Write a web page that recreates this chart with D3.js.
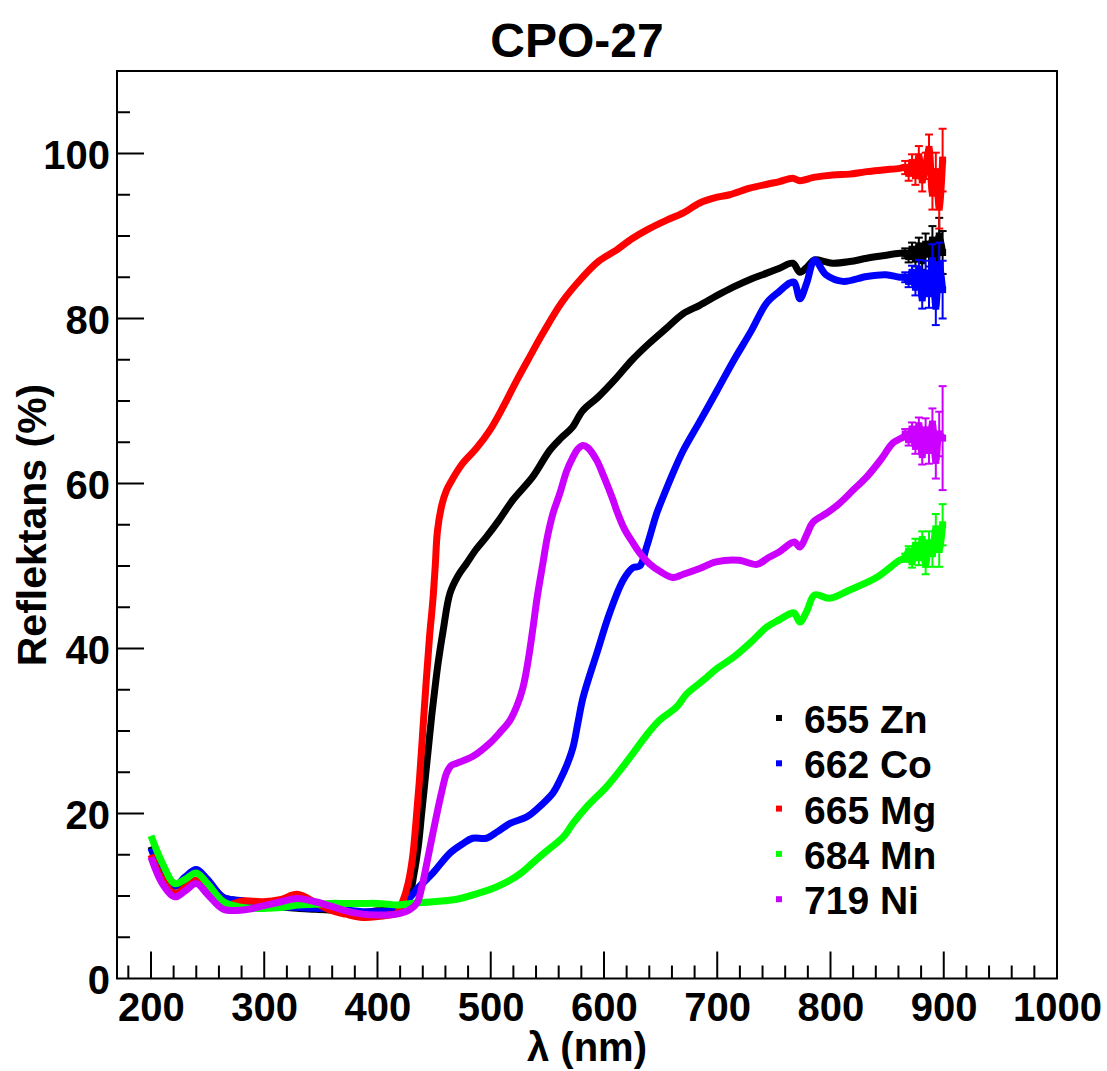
<!DOCTYPE html>
<html><head><meta charset="utf-8">
<script src="https://cdn.jsdelivr.net/npm/d3@7"></script>
<style>body{margin:0;background:#fff}svg{display:block}text{font-family:"Liberation Sans",Arial,sans-serif;font-weight:bold}</style>
</head><body><svg id="c" width="1107" height="1071"></svg>
<script>
// ---- data ----
const seriesNames = ["655 Zn","662 Co","665 Mg","684 Mn","719 Ni"];
const seriesColors = ["#000000","#0000ff","#ff0000","#00ff00","#cc00ff"];

const znNm  = [200,210,221,230,240,250,264,281,299,315,329,345,358,372,387,400,410,417,423,428.6,432,436,439,442,445,448,451,453.5,458,464,471,478.6,487,496,507,519.5,537,552,562,572,581,595,611,625,640,655,670,684.5,700,714,730,743.7,755,766.6,773,779,786,795,802,817,832,846,861];
const znVal = [16.0,13.0,11.2,12.0,13.1,11.8,9.8,9.4,8.9,8.7,8.5,8.4,8.3,8.1,8.0,8.2,8.3,8.6,9.2,10.3,12.5,16,20,24,28,32,35.5,38.2,42.2,46.7,48.8,50.3,52,53.5,55.5,58,60.8,64,65.5,66.8,68.8,70.5,72.8,75,77,78.8,80.6,81.6,82.8,83.8,84.8,85.5,86.1,86.7,85.6,86.2,87.1,86.9,86.7,86.9,87.3,87.6,87.9];

const coNm  = [200,210,221,230,240,250,264,281,299,315,329,345,358,372,387,400,410,417,424,436,449,464,475,484,496,506,517,532,546,555,561,567,572.6,577,581.6,593.6,605,617,625.6,631.6,637.6,646.6,652,660.7,670,684.5,700,714,730,743.7,755,764,768,773,779,786,796,811,832,849,861];
const coVal = [15.8,12.8,11.2,12.3,13.2,12.0,9.8,9.4,8.9,8.7,8.6,8.5,8.5,8.3,8.1,8.1,8.2,8.3,9.1,11,12.8,15.2,16.3,17,17,17.8,18.8,19.6,21.2,22.5,24,25.8,28,31,34.1,39.4,44.3,48.3,49.8,50,52.3,56.4,58.3,61.2,64.0,67.5,71.3,74.8,78.5,81.9,83.3,84.3,84.4,82.4,84.3,87.1,85.3,84.5,85.1,85.3,85.0];

const mgNm  = [200,210,221,230,240,250,264,281,299,315,329,345,358,372,387,400,410,417,422.7,427,431,434,437,440,443,446,449,451,453,457,461,464,475,487,499,511,523,535,546,563,581,595,611,625,640,655,670,684.5,700,711,728.7,745,755,766.6,773,785,802,817,832,846,861];
const mgVal = [15.0,12.0,10.3,11.0,11.9,10.8,8.9,9.4,9.3,9.6,10.2,9.2,8.3,7.8,7.4,7.5,7.7,7.9,9.5,11.5,14.7,19,24,30,36,41.5,46,50,54.3,57.5,59.2,60,62.4,64.2,66.4,69.3,72.5,75.5,78.2,82,85,86.9,88.3,89.7,90.9,91.9,92.8,94,94.7,95,95.8,96.3,96.6,97.0,96.7,97.1,97.4,97.5,97.8,98.0,98.2];

const mnNm  = [200,210,221,230,240,250,264,281,299,315,329,345,358,372,387,400,410,417,430,449,470,493,505,517,527,537,548,558,565,572.6,584.7,602,614,625.6,637,649,664,673,684.5,690.7,700,714,730,743.7,755,764,768,773,779,786,799,817,840.6,861];
const mnVal = [17.3,14,11.5,12.0,12.8,11.5,9.3,8.6,8.5,8.6,8.9,9.0,9.1,9.1,9.1,9.1,9.0,8.9,9.1,9.3,9.6,10.5,11.1,11.9,12.8,14,15.3,16.4,17.3,18.8,20.8,23.2,25.2,27.3,29.4,31.3,32.9,34.5,35.8,36.5,37.6,38.9,40.8,42.6,43.5,44.2,44.3,43.2,44.5,46.5,46.1,47.1,48.6,50.7];

const niNm  = [200,210,221,230,240,250,264,281,299,315,329,345,358,372,387,400,410,420,428,434.7,439,443.6,448,452.5,457,461,465,470,484,499,508,517,523,528.5,533,537,541,546,550,555,561,567,572.6,577,581.6,586,593.6,600,608,611,618,625.6,632,640,650,660.7,670,684.5,699,719,735,745,754.6,768,773,779,784.5,796.6,808,820,832,845,855,866];
const niVal = [14.7,11.5,9.9,10.6,11.5,10.2,8.4,8.3,8.8,9.3,9.7,9.3,8.8,8.2,7.8,7.7,7.7,7.9,8.3,9.1,11,14,17,20,22.8,24.9,25.8,26.1,26.9,28.5,29.8,31.3,33,35.3,38.5,42.2,46.2,50.3,53.5,56.4,58.8,61.5,63.2,64.2,64.6,64.3,62.8,60.8,58,56.8,54.5,52.8,51.5,50.3,49.3,48.6,49.0,49.7,50.5,50.7,50.2,51,51.7,52.9,52.3,53.8,55.3,56.4,57.6,59.2,60.8,63,64.9,65.8];

// noisy tail with error bars
const tailNm  = [866,869,872,875,878,881,884,887,890,893,896,899];
const znTail  = [87.9,87.5,88.4,87.2,88.8,87.0,89.0,87.8,89.5,86.5,90.0,88.0];
const znErr   = [0.6,0.7,0.8,0.9,1.0,1.1,1.3,1.5,1.7,1.9,2.2,2.6];
const coTail  = [85.0,84.5,85.6,83.8,86.0,82.5,85.5,83.0,87.0,81.5,86.5,83.5];
const coErr   = [0.6,0.7,0.8,1.0,1.1,1.3,1.5,1.7,2.0,2.3,2.7,3.5];
const mgTail  = [98.3,97.6,98.9,97.3,99.6,96.8,98.5,100.5,95.2,97.8,93.5,99.2];
const mgErr   = [0.8,0.9,1.0,1.1,1.3,1.4,1.6,1.8,2.0,2.3,2.6,3.8];
const mnTail  = [51.0,51.8,50.5,52.5,51.0,53.2,50.2,52.8,51.5,54.5,52.0,55.0];
const mnErr   = [0.5,0.6,0.7,0.8,0.9,1.0,1.2,1.4,1.6,1.8,2.1,2.5];
const niTail  = [66.0,65.3,66.6,64.5,67.0,63.5,66.5,64.0,67.2,62.8,66.0,65.5];
const niErr   = [0.6,0.7,0.8,0.9,1.0,1.2,1.4,1.6,1.9,2.2,2.7,6.3];

const xTickValues = [200,300,400,500,600,700,800,900,1000];
const yTickValues = [0,20,40,60,80,100];

// ---- drawing ----
const svg = d3.select("#c");
const L=117, R=1057, T=71, B=978.5;
const x = d3.scaleLinear().domain([170,1000]).range([L,R]);
const y = d3.scaleLinear().domain([0,110]).range([B,T]);

const mains = [[znNm,znVal],[coNm,coVal],[mgNm,mgVal],[mnNm,mnVal],[niNm,niVal]];
const tails = [[znTail,znErr],[coTail,coErr],[mgTail,mgErr],[mnTail,mnErr],[niTail,niErr]];

const gPlot = svg.append("g");
const line = d3.line().x(d=>x(d[0])).y(d=>y(d[1])).curve(d3.curveCatmullRom.alpha(0.5));

mains.forEach((m,i)=>{
  const col = seriesColors[i];
  const pts = m[0].map((n,j)=>[n,m[1][j]]);
  const tp = tailNm.map((n,j)=>[n,tails[i][0][j],tails[i][1][j]]);
  const all = pts.concat(tp.map(d=>[d[0],d[1]]));
  const g = gPlot.append("g");
  g.append("path").attr("d",line(all)).attr("fill","none").attr("stroke",col)
    .attr("stroke-width",7).attr("stroke-linejoin","round");
  tp.forEach(d=>{
    const cx=x(d[0]), y1=y(d[1]+d[2]), y2=y(d[1]-d[2]);
    g.append("line").attr("x1",cx).attr("x2",cx).attr("y1",y1).attr("y2",y2).attr("stroke",col).attr("stroke-width",2);
    [y1,y2].forEach(yy=>g.append("line").attr("x1",cx-4).attr("x2",cx+4).attr("y1",yy).attr("y2",yy).attr("stroke",col).attr("stroke-width",2));
    g.append("rect").attr("x",cx-3.5).attr("y",y(d[1])-3.5).attr("width",7).attr("height",7).attr("fill",col);
  });
});

// frame
svg.append("rect").attr("x",L).attr("y",T).attr("width",R-L).attr("height",B-T)
  .attr("fill","none").attr("stroke","#000").attr("stroke-width",2);

// x axis
const gx = svg.append("g").attr("transform",`translate(0,${B})`);
gx.call(d3.axisBottom(x).tickValues(xTickValues).tickFormat(d3.format("d")).tickSize(0).tickPadding(0));
gx.select(".domain").remove();
gx.selectAll(".tick text").attr("y",42).attr("dy",0).attr("font-size",40).attr("fill","#000")
  .style("font-family","'Liberation Sans',Arial,sans-serif").style("font-weight","bold");
d3.range(180,1001,20).forEach(v=>{
  const major = v%100===0;
  svg.append("line").attr("x1",x(v)).attr("x2",x(v)).attr("y1",B).attr("y2",B-(major?27:13))
    .attr("stroke","#000").attr("stroke-width",2);
});

// y axis
const gy = svg.append("g").attr("transform",`translate(${L},0)`);
gy.call(d3.axisLeft(y).tickValues(yTickValues).tickFormat(d3.format("d")).tickSize(0).tickPadding(0));
gy.select(".domain").remove();
gy.selectAll(".tick text").attr("x",-7).attr("dy",15).attr("font-size",40).attr("fill","#000")
  .style("font-family","'Liberation Sans',Arial,sans-serif").style("font-weight","bold");
d3.range(5,110.1,5).forEach(v=>{
  const major = v%20===0;
  svg.append("line").attr("x1",L).attr("x2",L+(major?27:13)).attr("y1",y(v)).attr("y2",y(v))
    .attr("stroke","#000").attr("stroke-width",2);
});

// titles
svg.append("text").attr("x",577).attr("y",57).attr("text-anchor","middle").attr("font-size",48).text("CPO-27");
svg.append("text").attr("x",587).attr("y",1061).attr("text-anchor","middle").attr("font-size",40).text("λ (nm)");
svg.append("text").attr("transform","translate(46,525) rotate(-90)").attr("text-anchor","middle").attr("font-size",41).text("Reflektans (%)");

// legend
seriesNames.forEach((n,i)=>{
  const cy = 718 + i*45.3;
  svg.append("rect").attr("x",776).attr("y",cy-3).attr("width",6).attr("height",6).attr("fill",seriesColors[i]);
  svg.append("text").attr("x",804).attr("y",cy+15).attr("font-size",39).text(n);
});
</script></body></html>
